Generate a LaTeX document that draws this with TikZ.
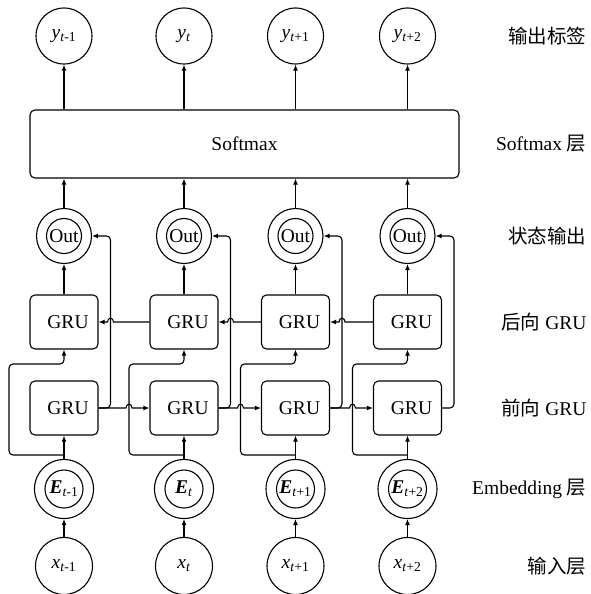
\documentclass[tikz,border=0pt]{standalone}
\usepackage{fontspec}
\setmainfont{Liberation Serif}
\newfontfamily\cjk{Noto Sans CJK SC}
\usetikzlibrary{arrows.meta,calc}
\begin{document}
\begin{tikzpicture}[x=1pt,y=-1pt, line width=1.1pt,
  every node/.style={font=\fontsize{19.5}{23}\selectfont},
  arr/.style={-{Latex[length=6pt,width=5pt]}},
  gru/.style={draw, rounded corners=5pt, minimum width=68pt, minimum height=54pt, inner sep=0pt},
  ycirc/.style={draw, circle, minimum size=56pt, inner sep=0pt},
  outc/.style={draw, circle, minimum size=55pt, inner sep=0pt},
  ecirc/.style={draw, circle, minimum size=59pt, inner sep=0pt},
  xcirc/.style={draw, circle, minimum size=57pt, inner sep=0pt},
  lab/.style={anchor=east, inner sep=0pt},
  smbox/.style={draw, rounded corners=5pt, minimum width=429pt, minimum height=68pt}
]
\useasboundingbox (0,0) rectangle (590,594);

\node[smbox] (sm) at (244.5,144) {Softmax};

\foreach \i/\c/\s in {1/64/{\textit{t}-1}, 2/184/{\textit{t}}, 3/295.5/{\textit{t}+1}, 4/407.5/{\textit{t}+2}} {
  \node[ycirc] (y\i) at (\c,36) {\textit{y}\textsubscript{\s}};
  \node[outc] (o\i) at (\c,236) {Out};
  \draw (o\i.center) circle[radius=17.5pt];
  \node[gru] (b\i) at (\c,322) {\hspace*{8pt}GRU};
  \node[gru] (f\i) at (\c,408) {\hspace*{8pt}GRU};
  \node[ecirc] (e\i) at (\c,489) {\textbf{\textit{E}}\textsubscript{\s}};
  \draw (e\i.center) circle[radius=19pt];
  \node[xcirc] (x\i) at (\c,566) {\textit{x}\textsubscript{\s}};
  % vertical flow
  \draw[arr] (x\i.north) -- (e\i.south);
  \draw[arr] (e\i.north) -- (f\i.south);
  \draw[arr] (b\i.north) -- (o\i.south);
  \draw[arr] (o\i.north) -- (o\i.north |- sm.south);
  \draw[arr] (sm.north -| y\i.south) -- (y\i.south);
  % embedding loop to backward GRU
  \draw[arr, rounded corners=4pt] (\c,455) -| (\c-55,364) -| (b\i.south);
  % forward GRU output up to Out
  \draw[arr, rounded corners=4pt] (f\i.east) -| (\c+46.5,236) -- (o\i.east);
}

% forward chain with hops over embedding loops
\foreach \i/\j/\n in {1/2/184, 2/3/295.5, 3/4/407.5} {
  \draw[arr] (f\i.east) -- (\n-58,408) .. controls (\n-58,403) and (\n-52,403) .. (\n-52,408) -- (f\j.west);
}
% backward chain with hops over forward risers
\foreach \i/\j/\p in {2/1/64, 3/2/184, 4/3/295.5} {
  \draw[arr] (b\i.west) -- (\p+49.5,322) .. controls (\p+49.5,317) and (\p+43.5,317) .. (\p+43.5,322) -- (b\j.east);
}

\node[lab] (l1) at (587,36) {\cjk 输出标签};
\node[lab] (l2) at (587,144) {Softmax {\cjk 层}};
\node[lab] (l3) at (587,236) {\cjk 状态输出};
\node[lab] (l4) at (587,322) {{\cjk 后向} GRU};
\node[lab] (l5) at (587,408) {{\cjk 前向} GRU};
\node[lab] (l6) at (587,489) {Embedding {\cjk 层}};
\node[lab] (l7) at (587,566) {\cjk 输入层};
\end{tikzpicture}
\end{document}
